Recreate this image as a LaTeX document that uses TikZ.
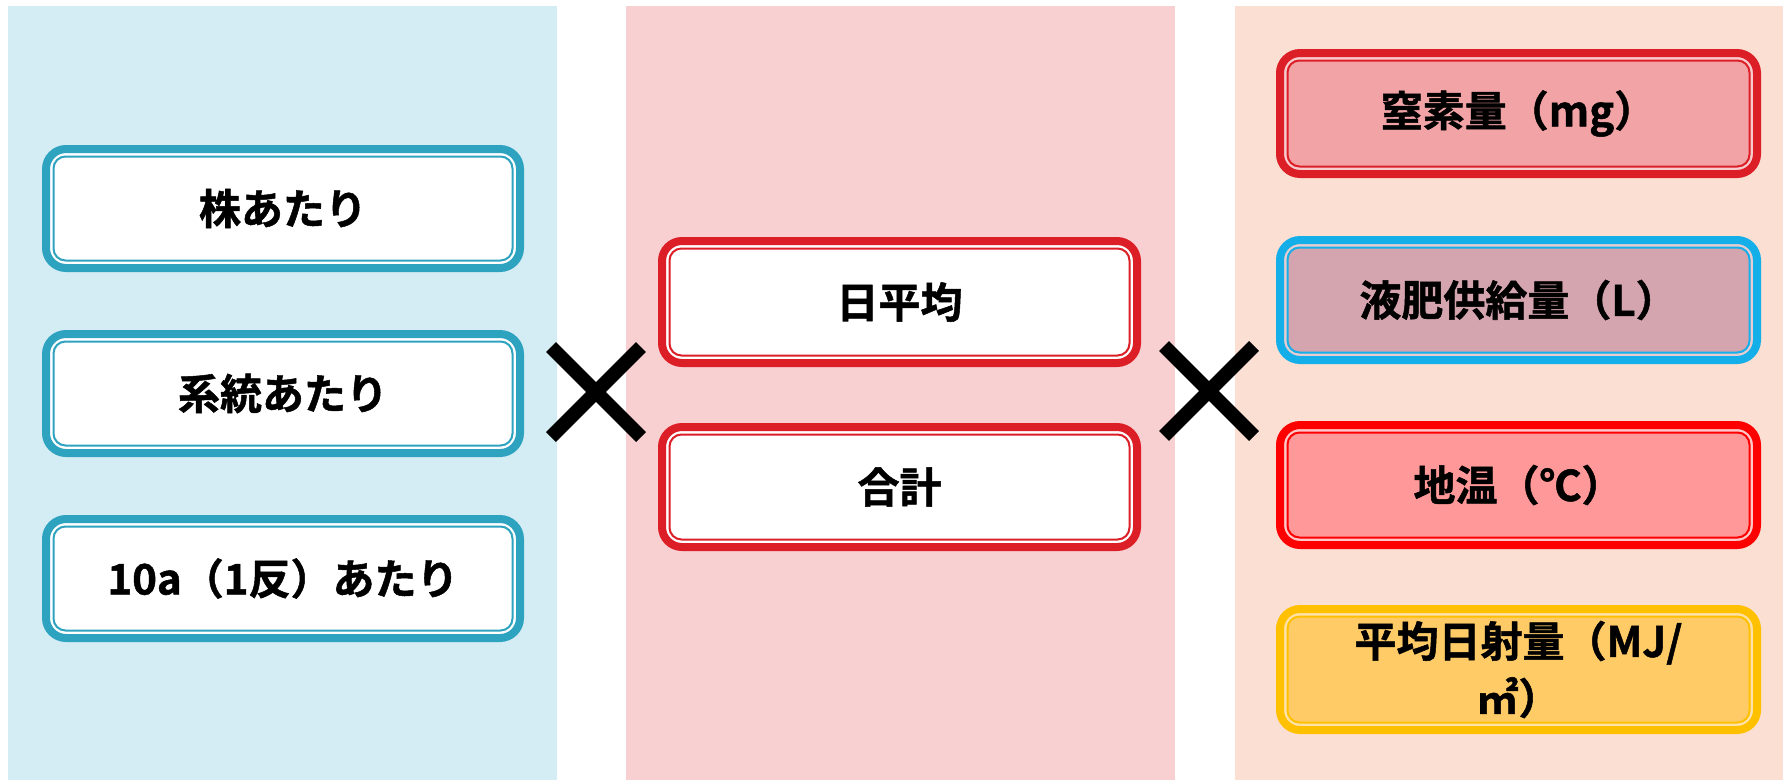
\documentclass[tikz,border=0pt]{standalone}
\usepackage{fontspec}
\setmainfont{Noto Sans CJK JP Bold}
\newfontfamily\jp[BoldFont={Noto Sans CJK JP Bold}, BoldFeatures={FakeBold=1.2}]{Noto Sans CJK JP Bold}
\definecolor{bgL}{HTML}{D4EDF4}
\definecolor{bgM}{HTML}{F8D0D2}
\definecolor{bgR}{HTML}{FBDFD2}
\definecolor{teal}{HTML}{2EA3C0}
\definecolor{redb}{HTML}{DC1F27}
\definecolor{cyanb}{HTML}{14AEE8}
\definecolor{pureRed}{HTML}{FF0000}
\definecolor{goldb}{HTML}{FFC000}
\definecolor{fillA}{HTML}{F2A3A6}
\definecolor{fillB}{HTML}{D4A5AE}
\definecolor{fillC}{HTML}{FF9999}
\definecolor{fillD}{HTML}{FFCB66}
\tikzset{
  outerbox/.style={rectangle, inner sep=0pt, outer sep=0pt, line width=8pt, rounded corners=20pt},
  innerbox/.style={rectangle, inner sep=0pt, outer sep=0pt, line width=2pt, rounded corners=12pt, align=center,
     font=\jp\bfseries\fontsize{42}{57}\selectfont},
  cross/.style={line width=14pt, black, line cap=butt}
}
% name, x1, y1, x2, y2, border, fill, gap, text
\newcommand{\cbox}[9]{%
  \node[outerbox, draw=#6, fill=#8, minimum width={#4-#2-8}, minimum height={#5-#3-8}]
     (#1o) at ({(#2+#4)/2},{(#3+#5)/2}) {};
  \node[innerbox, draw=#6, fill=#7, minimum width={#4-#2-23}, minimum height={#5-#3-23}]
     (#1) at ({(#2+#4)/2},{(#3+#5)/2}) {#9};
}
\begin{document}
\begin{tikzpicture}[x=1pt,y=-1pt]
\useasboundingbox (0,0) rectangle (1789,780);
\fill[white] (0,0) rectangle (1789,780);
% panels
\fill[bgL] (8,6) rectangle (557,780);
\fill[bgM] (626,6) rectangle (1175,780);
\fill[bgR] (1235,6) rectangle (1783,780);
% left boxes
\cbox{l1}{42}{145}{524}{272}{teal}{white}{white}{株あたり}
\cbox{l2}{42}{330}{524}{457}{teal}{white}{white}{系統あたり}
\cbox{l3}{42}{515}{524}{642}{teal}{white}{white}{10a（1反）あたり}
% middle boxes
\cbox{m1}{658}{237}{1141}{367}{redb}{white}{white}{日平均}
\cbox{m2}{658}{423}{1141}{551}{redb}{white}{white}{合計}
% right boxes
\cbox{r1}{1276}{49}{1761}{178}{redb}{fillA}{fillA!55!white}{窒素量（mg）}
\cbox{r2}{1276}{236}{1761}{364}{cyanb}{fillB}{fillB!55!white}{液肥供給量（L）}
\cbox{r3}{1276}{421}{1761}{549}{pureRed}{fillC}{fillC!55!white}{地温（℃）}
\cbox{r4}{1276}{605}{1761}{734}{goldb}{fillD}{fillD!55!white}{平均日射量（MJ/\\㎡）}
% crosses
\coordinate (c1) at (596,392);
\coordinate (c2) at (1209,391);
\draw[cross] ([shift={(-45,-45)}]c1) -- ([shift={(45,45)}]c1);
\draw[cross] ([shift={(-45,45)}]c1) -- ([shift={(45,-45)}]c1);
\draw[cross] ([shift={(-45,-45)}]c2) -- ([shift={(45,45)}]c2);
\draw[cross] ([shift={(-45,45)}]c2) -- ([shift={(45,-45)}]c2);
\end{tikzpicture}
\end{document}
